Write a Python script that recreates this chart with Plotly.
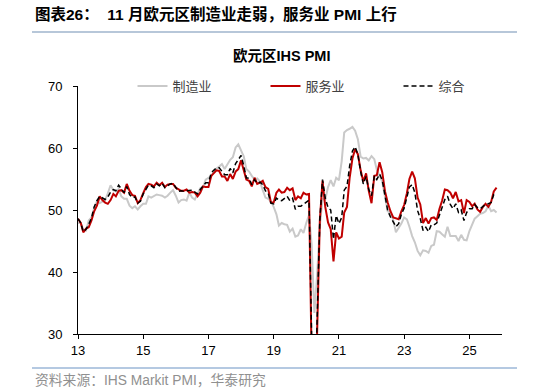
import pandas as pd
import plotly.graph_objects as go

dates = pd.date_range("2013-01-01", periods=155, freq="MS")

manufacturing = [
    47.9, 47.9, 46.8, 46.7, 48.3, 48.8, 50.3, 51.4, 51.1, 51.3, 51.6, 52.7,
    54.0, 53.2, 53.0, 53.4, 52.2, 51.8, 51.8, 50.7, 50.3, 50.6, 50.1, 50.6,
    51.0, 51.0, 52.2, 52.0, 52.2, 52.5, 52.4, 52.3, 52.0, 52.3, 52.8, 53.2,
    52.3, 51.2, 51.6, 51.7, 51.5, 52.8, 52.0, 51.7, 52.6, 53.5, 53.7, 54.9,
    55.2, 55.4, 56.2, 56.7, 57.0, 57.4, 56.6, 57.4, 58.1, 58.5, 60.1, 60.6,
    59.6, 58.6, 56.6, 56.2, 55.5, 54.9, 55.1, 54.6, 53.2, 52.0, 51.8, 51.4,
    50.5, 49.3, 47.5, 47.9, 47.7, 47.6, 46.5, 47.0, 45.7, 45.9, 46.9, 46.3,
    47.9, 49.2, 44.5, 33.4, 39.4, 47.4, 51.8, 51.7, 53.7, 54.8, 53.8, 55.2,
    54.8, 57.9, 62.5, 62.9, 63.1, 63.4, 62.8, 61.4, 58.6, 58.3, 58.4, 58.0,
    58.7, 58.2, 56.5, 55.5, 54.6, 52.1, 49.8, 49.6, 48.4, 46.4, 47.1, 47.8,
    48.8, 48.5, 47.3, 45.8, 44.8, 43.4, 42.7, 43.5, 43.4, 43.1, 44.2, 44.4,
    46.6, 46.5, 46.1, 45.7, 47.3, 45.8, 45.8, 45.8, 45.0, 46.0, 45.2, 45.1,
    46.6, 47.6, 48.6, 49.0, 49.4, 49.5, 49.8, 50.7, 49.8, 50.0, 49.6,
]

services = [
    48.6, 47.9, 46.4, 47.0, 47.2, 48.3, 49.8, 50.7, 52.2, 51.6, 51.2, 51.0,
    51.6, 52.6, 52.2, 53.1, 53.2, 52.8, 54.2, 53.1, 52.4, 52.3, 51.1, 51.6,
    52.7, 53.7, 54.2, 54.1, 53.8, 54.4, 54.0, 54.4, 53.7, 54.1, 54.2, 54.2,
    53.6, 53.3, 53.1, 53.1, 53.3, 52.8, 52.9, 52.8, 52.2, 52.8, 53.8, 53.7,
    53.7, 55.5, 56.0, 56.4, 56.3, 55.4, 55.4, 54.7, 55.8, 55.0, 56.2, 56.6,
    58.0, 56.2, 54.9, 54.7, 53.8, 55.2, 54.2, 54.4, 54.7, 53.7, 53.4, 51.2,
    51.2, 52.8, 53.3, 52.8, 52.9, 53.6, 53.2, 53.5, 51.6, 52.2, 51.9, 52.8,
    52.5, 52.6, 26.4, 12.0, 30.5, 48.3, 54.7, 50.5, 48.0, 46.9, 41.7, 46.4,
    45.4, 45.7, 49.6, 50.5, 55.2, 58.3, 59.8, 59.0, 56.4, 54.6, 55.9, 53.1,
    51.1, 55.5, 55.6, 57.7, 56.1, 53.0, 51.2, 49.8, 48.8, 48.6, 48.5, 49.8,
    50.8, 52.7, 55.0, 56.2, 55.1, 52.0, 50.9, 47.9, 48.7, 47.8, 48.7, 48.8,
    48.4, 50.2, 51.5, 53.3, 53.2, 52.8, 51.9, 52.9, 51.4, 51.6, 49.5, 51.6,
    51.3, 50.6, 51.0, 50.1, 49.7, 50.5, 51.0, 50.5, 51.3, 53.0, 53.6,
]

composite = [
    48.6, 47.9, 46.5, 46.9, 47.7, 48.7, 50.5, 51.5, 52.2, 51.9, 51.7, 52.1,
    52.9, 53.3, 53.1, 54.0, 53.5, 52.8, 53.8, 52.5, 52.0, 52.1, 51.1, 51.4,
    52.6, 53.3, 54.0, 53.9, 53.6, 54.2, 53.9, 54.3, 53.6, 53.9, 54.2, 54.3,
    53.6, 53.0, 53.1, 53.0, 53.1, 53.1, 53.2, 52.9, 52.6, 53.3, 53.9, 54.4,
    54.4, 56.0, 56.4, 56.8, 56.8, 56.3, 55.7, 55.7, 56.7, 56.0, 57.5, 58.1,
    58.8, 57.1, 55.2, 55.1, 54.1, 54.9, 54.3, 54.5, 54.1, 53.1, 52.7, 51.1,
    51.0, 51.9, 51.6, 51.5, 51.8, 52.2, 51.5, 51.9, 50.1, 50.6, 50.6, 50.9,
    51.3, 51.6, 29.7, 13.6, 31.9, 48.5, 54.9, 51.9, 50.4, 50.0, 45.3, 49.1,
    47.8, 48.8, 53.2, 53.8, 57.1, 59.5, 60.2, 59.0, 56.2, 54.2, 55.4, 53.3,
    52.3, 55.5, 54.9, 55.8, 54.8, 52.0, 49.9, 48.9, 48.1, 47.3, 47.8, 49.3,
    50.3, 52.0, 53.7, 54.1, 52.8, 49.9, 48.6, 46.7, 47.2, 46.5, 47.6, 47.6,
    47.9, 49.2, 50.3, 51.7, 52.2, 50.9, 50.2, 51.0, 49.6, 50.0, 48.3, 49.6,
    50.2, 50.2, 50.9, 50.4, 50.2, 50.6, 50.9, 51.0, 51.2, 52.5, 52.8,
]

series_names = ["制造业", "服务业", "综合"]
y_ticks = [30, 40, 50, 60, 70]

FONT = "Liberation Sans, Arial, Noto Sans CJK SC, sans-serif"

fig = go.Figure()
fig.add_trace(go.Scatter(x=dates, y=manufacturing, name=series_names[0], mode="lines",
                         line=dict(color="#c9c9c9", width=2)))
fig.add_trace(go.Scatter(x=dates, y=services, name=series_names[1], mode="lines",
                         line=dict(color="#c00000", width=2)))
fig.add_trace(go.Scatter(x=dates, y=composite, name=series_names[2], mode="lines",
                         line=dict(color="#000000", width=1.5, dash="5px,3px")))

# plot area: left 78, right 502, top 86, bottom 334 px
L, R, T, B = 78, 502, 86, 334
W, H = 534, 392

def px(x):
    return (x - L) / (R - L)

def py(y):
    return (B - y) / (B - T)

fig.update_layout(
    width=W, height=H,
    margin=dict(l=L, r=W - R, t=T, b=H - B, autoexpand=False),
    paper_bgcolor="white", plot_bgcolor="white",
    font=dict(family=FONT, size=13, color="#000000"),
    showlegend=True,
    legend=dict(orientation="h", x=px(332), xanchor="center", y=py(86), yanchor="middle",
                font=dict(size=13, color="#404040"), bgcolor="rgba(0,0,0,0)",
                entrywidth=88, entrywidthmode="pixels", traceorder="normal"),
    xaxis=dict(type="date", range=["2013-01-01", "2026-01-01"],
               tick0="2013-01-01", dtick="M24", tickformat="%y",
               showline=True, linecolor="black", linewidth=1,
               ticks="outside", ticklen=4, tickcolor="black",
               showgrid=False, zeroline=False, tickfont=dict(size=13)),
    yaxis=dict(range=[30, 70], tickvals=y_ticks,
               showline=True, linecolor="black", linewidth=1,
               ticks="outside", ticklen=4, tickcolor="black", ticklabelstandoff=8,
               showgrid=False, zeroline=False, tickfont=dict(size=13)),
)

annotations = [
    dict(text="<b>欧元区IHS PMI</b>", x=px(281), y=py(55), xref="paper", yref="paper",
         xanchor="center", yanchor="middle", showarrow=False, font=dict(size=14.5, color="#000000")),
    dict(text="<b>图表26：  11 月欧元区制造业走弱，服务业 PMI 上行</b>", x=px(33), y=py(14),
         xref="paper", yref="paper", xanchor="left", yanchor="middle", showarrow=False,
         font=dict(size=15.5, color="#000000")),
    dict(text="资料来源：IHS Markit PMI，华泰研究", x=px(33), y=py(380),
         xref="paper", yref="paper", xanchor="left", yanchor="middle", showarrow=False,
         font=dict(size=13.8, color="#909090")),
]
fig.update_layout(annotations=annotations)

fig.add_shape(type="line", xref="paper", yref="paper", x0=px(32), x1=px(517), y0=py(32), y1=py(32),
              line=dict(color="#9fb4cc", width=1.5))
fig.add_shape(type="line", xref="paper", yref="paper", x0=px(32), x1=px(517), y0=py(368), y1=py(368),
              line=dict(color="#6a93c4", width=1))

fig.write_html("out.html")
